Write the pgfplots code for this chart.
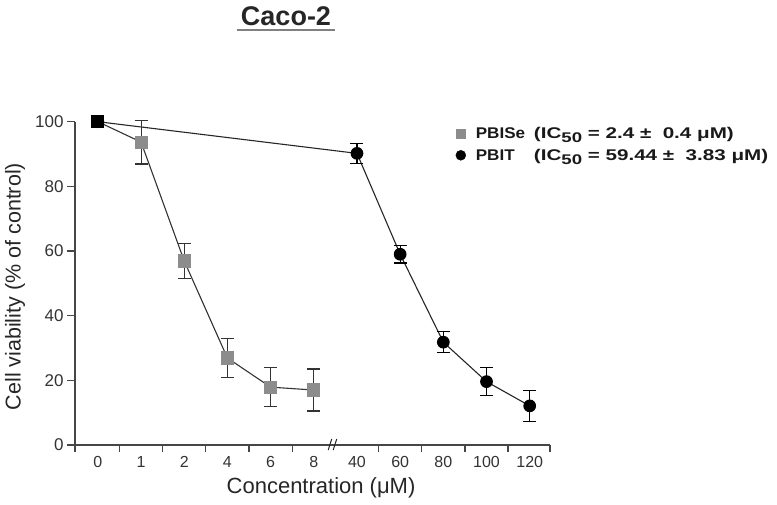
\documentclass[border=0pt]{standalone}
\usepackage{fontspec}
\setmainfont{Liberation Sans}
\usepackage{pgfplots}
\pgfplotsset{compat=1.18}

\definecolor{sqgray}{RGB}{140,140,140}
\definecolor{axgray}{RGB}{70,70,70}
\newcommand{\sub}[1]{\raisebox{-0.55ex}{\fontsize{14}{15}\selectfont #1}}

\begin{document}
\begin{tikzpicture}
% picture frame: 777 x 505, axis box starts 75pt from the left and 60pt from the bottom
\useasboundingbox (-75pt,-60pt) rectangle (702pt,445pt);
\begin{axis}[
    scale only axis,
    width=475pt,height=323.3pt,
    xmin=-0.53,xmax=10.47,
    ymin=0,ymax=100,
    enlargelimits=false,
    clip=false,
    axis lines*=left,
    axis line style={axgray,line width=1.3pt,-},
    xtick={0,...,10},
    xticklabels={0,1,2,4,6,8,40,60,80,100,120},
    minor xtick={-0.53,0.5,1.5,2.5,3.5,4.5,6.5,7.5,8.5,9.5,10.47},
    major x tick style={draw=none},
    minor x tick style={axgray,line width=1.3pt},
    ytick={0,20,...,100},
    y tick style={axgray,line width=1.3pt},
    tick align=outside,
    major tick length=8pt,
    minor tick length=7pt,
    /pgf/number format/assume math mode=true,
    xticklabel style={font=\fontsize{16}{18}\selectfont,text=black!80},
    yticklabel style={font=\fontsize{17}{19}\selectfont,text=black!80},
    xlabel={Concentration (μM)},
    ylabel={Cell viability (\% of control)},
    every axis x label/.style={at={(rel axis cs:0.518,0)},anchor=base,yshift=-49pt,
        font=\fontsize{22}{24}\selectfont,text=black!85},
    every axis y label/.style={at={([xshift=-60pt]rel axis cs:0,0.49)},rotate=90,anchor=center,
        font=\fontsize{21.5}{24}\selectfont,text=black!85},
    legend style={at={(axis cs:8.215,99.6)},anchor=north west,draw=none,fill=none,
        font=\bfseries\fontsize{15.5}{18}\selectfont,row sep=5pt,text=black!90,
        /tikz/every odd column/.append style={column sep=8pt}},
    legend cell align=left,
]
\addlegendimage{only marks,mark=square*,mark size=4.5pt,color=sqgray}
\addlegendentry{\makebox[3.75em][l]{\scalebox{1.1}[1]{PBISe}}\scalebox{1.33}[1]{(IC\sub{50} = 2.4 ±\ \ 0.4 μM)}}
\addlegendimage{only marks,mark=*,mark size=5pt,color=black}
\addlegendentry{\makebox[3.75em][l]{\scalebox{1.1}[1]{PBIT}}\scalebox{1.33}[1]{(IC\sub{50} = 59.44 ±\ \ 3.83 μM)}}

% PBIT
\addplot[forget plot,black!85,line width=1.1pt,mark=*,mark size=5.8pt,
    mark options={fill=black,draw=black},
    error bars/.cd,y dir=both,y explicit,
    error bar style={black,line width=1.1pt},
    error mark options={rotate=90,mark size=6.5pt,line width=1.1pt}]
  coordinates {
  (0,100) +- (0,0)
  (6,90.2) +- (0,3.0)
  (7,59.0) +- (0,2.7)
  (8,31.8) +- (0,3.3)
  (9,19.6) +- (0,4.4)
  (10,12.1) +- (0,4.7)
  };

% PBISe (the shared 0 point shows as a black square)
\addplot[forget plot,black!80,line width=1.1pt,
    scatter,scatter src=explicit symbolic,
    scatter/classes={
      k={mark=square*,mark size=6pt,fill=black,draw=black},
      g={mark=square*,mark size=6pt,fill=sqgray,draw=sqgray}},
    error bars/.cd,y dir=both,y explicit,
    error bar style={black!80,line width=1.1pt},
    error mark options={rotate=90,mark size=6.5pt,line width=1.1pt}]
  coordinates {
  (0,100) +- (0,0) [k]
  (1,93.7) +- (0,6.8) [g]
  (2,56.9) +- (0,5.3) [g]
  (3,26.9) +- (0,6.0) [g]
  (4,17.9) +- (0,6.0) [g]
  (5,17.0) +- (0,6.5) [g]
  };

% axis break mark
\draw[black!85,line width=1pt] ([xshift=-5pt,yshift=-5pt]axis cs:5.45,0) -- ++(3.5pt,11pt);
\draw[black!85,line width=1pt] ([xshift=0pt,yshift=-5pt]axis cs:5.45,0) -- ++(3.5pt,11pt);
\end{axis}
% title
\node[anchor=base,font=\bfseries\fontsize{27}{30}\selectfont,text=black!85] (t) at (211pt,419pt) {Caco-2};
\draw[gray,line width=2pt] (162pt,414.5pt) -- (260pt,414.5pt);
\end{tikzpicture}
\end{document}
